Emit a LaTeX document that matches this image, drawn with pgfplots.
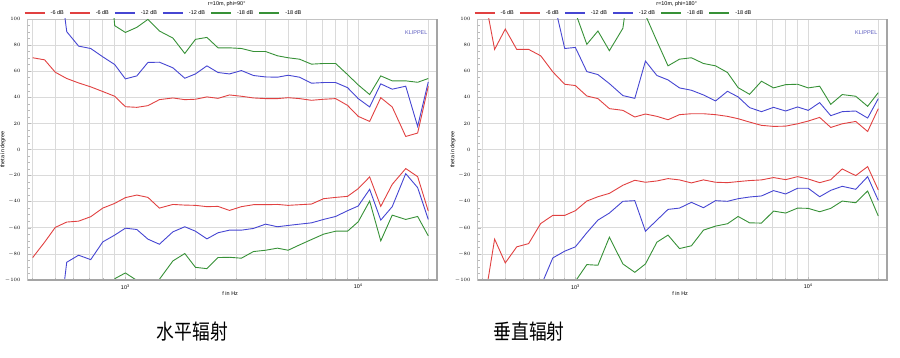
\documentclass[border=0pt]{standalone}
\usepackage{pgfplots}
\pgfplotsset{compat=1.18}
\usepackage{pgfplotstable}
\usepackage{graphicx}
\usepackage{fontspec}
\setmainfont{Liberation Sans}
\newfontfamily\cjk{Noto Sans CJK SC}
\definecolor{cred}{RGB}{225,65,65}
\definecolor{cblue}{RGB}{70,70,210}
\definecolor{cgreen}{RGB}{55,145,55}
\definecolor{gridc}{RGB}{218,218,218}
\definecolor{framec}{RGB}{195,195,195}
\definecolor{shadowc}{RGB}{165,165,165}
\definecolor{klip}{RGB}{90,90,190}
\newcommand\sz{\fontsize{5.5}{6.5}\selectfont}

\pgfplotstableread{
f ru rl bu bl gu gl
400 70.3 -82.8 nan nan nan nan
450 68.7 -71 nan nan nan nan
500 59.2 -59.7 160 -160 nan nan
560 54.4 -55.6 90.3 -86.4 nan nan
630 51 -54.9 79.2 -81 nan nan
710 48 -51.5 77.4 -84.4 nan nan
800 44.4 -44.9 71 -70.8 200 nan
900 40.8 -41.3 65.1 -65.6 94.9 -99
1000 32.8 -36.9 54.1 -60.3 89.7 -94.6
1120 32.3 -34.9 56.4 -61.3 93.6 -100.3
1250 33.6 -36.7 66.7 -68.7 99.7 -101.5
1400 38.2 -44.9 66.9 -72.6 90.8 -99.5
1600 39.5 -42.1 62.6 -63.1 85.4 -85.4
1800 38.2 -42.6 54.6 -59.2 73.6 -79.7
2000 38.5 -42.8 57.9 -62.6 84.4 -90.3
2240 40.3 -43.8 64.1 -68.5 85.9 -91.3
2500 39.2 -43.6 59 -63.8 77.9 -82.8
2800 41.8 -46.7 57.9 -61.8 77.9 -82.6
3150 40.8 -43.8 60.5 -61.8 77.4 -83.3
3550 39.5 -42.3 56.7 -60.5 75.1 -78.2
4000 39 -42.3 55.6 -57.2 75.1 -77.2
4500 39 -42.1 55.4 -59.2 71.8 -75.6
5000 39.7 -42.8 56.9 -58.2 70.3 -77.2
5600 39 -42.3 55.4 -57.2 69.2 -73.1
6300 37.7 -41.8 50.8 -56.2 65.4 -69
7100 38.5 -37.7 51.3 -53.6 65.9 -64.9
8000 39 -36.7 51.3 -51.3 65.9 -62.6
9000 33.8 -35.9 47.4 -46.9 57.4 -62.6
10000 25.4 -30 39 -43.3 49.5 -55.4
11200 21.5 -21 32.6 -30.5 42.1 -39.5
12500 39.7 -43.6 50.3 -54.1 56.4 -70
14000 32.6 -26.7 46.2 -43.8 52.6 -50.3
16000 10 -14.6 48.5 -18.5 52.6 -53.6
18000 12.6 -20.8 17.7 -29.2 51.5 -51.3
20000 48.5 -47.2 51.8 -53.6 54.4 -66.2
}\lefttab

\pgfplotstableread{
f ru rl bu bl gu gl
400 125 -125 nan nan nan nan
450 76.7 -68.7 nan nan nan nan
500 92.3 -86.9 nan nan nan nan
560 76.7 -74.6 nan nan nan nan
630 76.7 -72.1 nan nan nan nan
710 71.8 -56.7 nan -105 nan nan
800 59.5 -50.5 117 -83.1 nan nan
900 50 -50.5 77.4 -77.9 nan -120
1000 49 -46.9 78.2 -74.6 105 -101
1120 41 -39.5 59.7 -63.8 80.6 -88.2
1250 39 -36.2 57.4 -54.1 90.8 -88.7
1400 31.3 -33.6 50.5 -48.7 75.7 -67.2
1600 30 -27.4 41.3 -39.7 92.9 -87.7
1800 24.9 -23.6 39.2 -39.2 160 -94.1
2000 27.2 -25.1 67.7 -62.6 103 -87.7
2240 25.4 -24.1 56.7 -54.1 83 -71
2500 22.8 -22.3 53.3 -45.9 64.1 -65.6
2800 26.7 -23.3 47.2 -44.9 69.2 -75.9
3150 27.4 -25.6 45.4 -40.5 70.3 -73.8
3550 27.4 -23.3 41.8 -44.6 65.9 -61.8
4000 26.7 -25.1 37.2 -39.2 64.1 -58.7
4500 25.4 -25.4 44.6 -39.7 59 -56.9
5000 23.6 -24.6 40.3 -37.7 47.4 -51.3
5600 21 -23.8 32.1 -36.4 42.3 -56.2
6300 18.5 -23.3 29 -35.6 52.3 -56.4
7100 17.7 -21.5 32.3 -31.5 47.2 -47.2
8000 17.9 -23.1 29.5 -34.1 49.7 -48.7
9000 19.7 -20.8 32.6 -29.7 50 -44.9
10000 21.8 -22.6 30 -29.7 47.2 -45.1
11200 24.6 -25.4 35.9 -36.2 48.5 -47.7
12500 16.9 -23.1 25.9 -31.3 34.6 -45.1
14000 19.7 -14.9 29 -28.2 42.1 -39.5
16000 21.5 -20 29.5 -30.5 40.8 -40.8
18000 13.8 -13.1 24.1 -20.8 33.1 -31.8
20000 31.3 -31 39 -39 43.6 -51
}\righttab

\begin{document}
\begin{tikzpicture}
\useasboundingbox (0,0) rectangle (900bp,358bp);
\begin{semilogxaxis}[
    scale only axis, width=409.5bp, height=261bp,
    at={(27.5bp,78bp)}, anchor=south west,
    xmin=380, xmax=21800, ymin=-100, ymax=100,
    xtick={1000,10000},
    xticklabels={10\textsuperscript{3},10\textsuperscript{4}},
    minor xtick={400,500,600,700,800,900,2000,3000,4000,5000,6000,7000,8000,9000,20000},
    ytick={-100,-80,...,100},
    minor ytick={-95,-90,...,95},
    xmajorgrids, xminorgrids, ymajorgrids,
    grid style={gridc, line width=0.6bp},
    minor grid style={gridc, line width=0.6bp},
    axis line style={framec, line width=0.6bp},
    tick pos=left,
    tick style={gray!55, line width=0.5bp},
    major tick length=3bp, minor tick length=2bp,
    clip mode=individual,
    ticklabel style={font=\sz},
    yticklabel style={anchor=east, inner sep=0pt, xshift=-6.8bp},
    xticklabel style={anchor=center, inner sep=0pt, yshift=-6.7bp},
    xlabel={f in Hz},
    xlabel style={font=\sz, at={(axis description cs:0.495,0)}, anchor=center, yshift=-14bp},
    ylabel={theta in degree},
    ylabel style={font=\sz, at={(axis description cs:-0.06,0.5)}, anchor=center},
    legend columns=6,
    legend style={at={(axis description cs:0,1)}, anchor=west, xshift=-4bp, yshift=5.7bp,
      draw=none, fill=none, font=\sz, inner sep=0pt, column sep=3bp},
    legend cell align=left,
    legend image code/.code={\draw[line width=2bp] (0bp,0bp) -- (20bp,0bp);},
  ]
\addplot[cred, line width=0.9bp] table[x=f,y=ru] {\lefttab}; \addlegendentry{-6 dB}
\addplot[cred, line width=0.9bp] table[x=f,y=rl] {\lefttab}; \addlegendentry{-6 dB}
\addplot[cblue, line width=0.9bp] table[x=f,y=bu] {\lefttab}; \addlegendentry{-12 dB}
\addplot[cblue, line width=0.9bp] table[x=f,y=bl] {\lefttab}; \addlegendentry{-12 dB}
\addplot[cgreen, line width=0.9bp] table[x=f,y=gu] {\lefttab}; \addlegendentry{-18 dB}
\addplot[cgreen, line width=0.9bp] table[x=f,y=gl] {\lefttab}; \addlegendentry{-18 dB}
\draw[shadowc, line width=2bp] (rel axis cs:0,0) -- (rel axis cs:1,0) -- (rel axis cs:1,1);
\node[anchor=east, text=klip, font=\sz, inner sep=0pt] at (rel axis cs:0.977,0.9475) {KLIPPEL};
\end{semilogxaxis}
\begin{semilogxaxis}[
    scale only axis, width=409.5bp, height=261bp,
    at={(477.5bp,78bp)}, anchor=south west,
    xmin=380, xmax=21800, ymin=-100, ymax=100,
    xtick={1000,10000},
    xticklabels={10\textsuperscript{3},10\textsuperscript{4}},
    minor xtick={400,500,600,700,800,900,2000,3000,4000,5000,6000,7000,8000,9000,20000},
    ytick={-100,-80,...,100},
    minor ytick={-95,-90,...,95},
    xmajorgrids, xminorgrids, ymajorgrids,
    grid style={gridc, line width=0.6bp},
    minor grid style={gridc, line width=0.6bp},
    axis line style={framec, line width=0.6bp},
    tick pos=left,
    tick style={gray!55, line width=0.5bp},
    major tick length=3bp, minor tick length=2bp,
    clip mode=individual,
    ticklabel style={font=\sz},
    yticklabel style={anchor=east, inner sep=0pt, xshift=-6.8bp},
    xticklabel style={anchor=center, inner sep=0pt, yshift=-6.7bp},
    xlabel={f in Hz},
    xlabel style={font=\sz, at={(axis description cs:0.495,0)}, anchor=center, yshift=-14bp},
    ylabel={theta in degree},
    ylabel style={font=\sz, at={(axis description cs:-0.06,0.5)}, anchor=center},
    legend columns=6,
    legend style={at={(axis description cs:0,1)}, anchor=west, xshift=-4bp, yshift=5.7bp,
      draw=none, fill=none, font=\sz, inner sep=0pt, column sep=3bp},
    legend cell align=left,
    legend image code/.code={\draw[line width=2bp] (0bp,0bp) -- (20bp,0bp);},
  ]
\addplot[cred, line width=0.9bp] table[x=f,y=ru] {\righttab}; \addlegendentry{-6 dB}
\addplot[cred, line width=0.9bp] table[x=f,y=rl] {\righttab}; \addlegendentry{-6 dB}
\addplot[cblue, line width=0.9bp] table[x=f,y=bu] {\righttab}; \addlegendentry{-12 dB}
\addplot[cblue, line width=0.9bp] table[x=f,y=bl] {\righttab}; \addlegendentry{-12 dB}
\addplot[cgreen, line width=0.9bp] table[x=f,y=gu] {\righttab}; \addlegendentry{-18 dB}
\addplot[cgreen, line width=0.9bp] table[x=f,y=gl] {\righttab}; \addlegendentry{-18 dB}
\draw[shadowc, line width=2bp] (rel axis cs:0,0) -- (rel axis cs:1,0) -- (rel axis cs:1,1);
\node[anchor=east, text=klip, font=\sz, inner sep=0pt] at (rel axis cs:0.977,0.9475) {KLIPPEL};
\end{semilogxaxis}
\node[font=\sz, inner sep=0pt] at (226.7bp,353.5bp) {r=10m, phi=90°};
\node[font=\sz, inner sep=0pt] at (676.7bp,353.5bp) {r=10m, phi=180°};
\node[font=\cjk\fontsize{21}{24}\selectfont] at (192.5bp,26.3bp) {\scalebox{0.85}[1]{水平辐射}};
\node[font=\cjk\fontsize{21}{24}\selectfont] at (529bp,26.3bp) {\scalebox{0.85}[1]{垂直辐射}};
\end{tikzpicture}
\end{document}
